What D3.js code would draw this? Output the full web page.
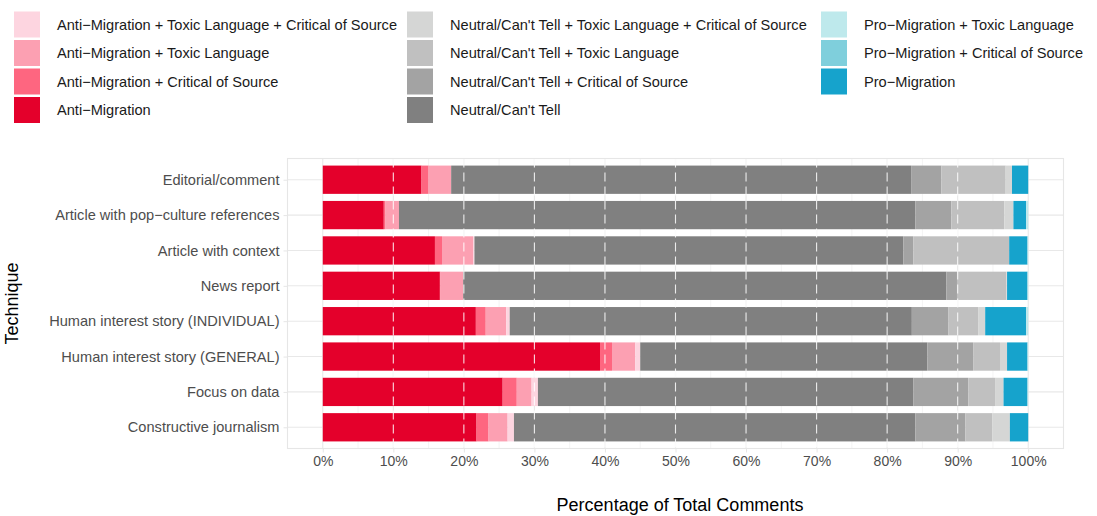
<!DOCTYPE html>
<html>
<head>
<meta charset="utf-8">
<script src="https://cdn.jsdelivr.net/npm/d3@7"></script>
<style>
  body { margin: 0; background: #fff; }
  text { font-family: "Liberation Sans", Arial, sans-serif; }
</style>
</head>
<body>
<div id="chart"></div>
<script>
// categories, top to bottom
const techniques = ["Editorial/comment", "Article with pop\u2212culture references", "Article with context",
  "News report", "Human interest story (INDIVIDUAL)", "Human interest story (GENERAL)",
  "Focus on data", "Constructive journalism"];

// percentage of comments per technique, one array per stance
const antiMigration        = [14.0, 8.65, 15.9, 16.6, 21.7, 39.3, 25.5, 21.8];
const antiCritical         = [1.0, 0.25, 1.0, 0.1, 1.4, 1.7, 2.0, 1.7];
const antiToxic            = [3.2, 1.9, 4.4, 3.2, 2.9, 3.3, 2.1, 2.7];
const antiToxicCritical    = [0.0, 0.0, 0.2, 0.0, 0.5, 0.7, 0.9, 0.9];
const neutral              = [65.2, 73.2, 60.8, 68.5, 57.0, 40.7, 53.2, 56.9];
const neutralCritical      = [4.3, 5.1, 1.4, 1.5, 5.2, 6.5, 7.8, 7.1];
const neutralToxic         = [9.1, 7.5, 13.6, 7.0, 4.2, 3.8, 3.8, 3.8];
const neutralToxicCritical = [0.9, 1.3, 0.0, 0.1, 1.0, 1.0, 1.2, 2.5];
const proMigration         = [2.3, 1.8, 2.6, 2.9, 5.8, 2.9, 3.4, 2.6];
const proCritical          = [0, 0, 0, 0, 0, 0, 0, 0];
const proToxic             = [0, 0.3, 0.1, 0.1, 0.3, 0.1, 0.1, 0];

const xTicks = [0, 10, 20, 30, 40, 50, 60, 70, 80, 90, 100];

// stack order left -> right
const series = [
  {key: "Anti\u2212Migration", values: antiMigration, color: "#e4002b"},
  {key: "Anti\u2212Migration + Critical of Source", values: antiCritical, color: "#fe6680"},
  {key: "Anti\u2212Migration + Toxic Language", values: antiToxic, color: "#fca0b2"},
  {key: "Anti\u2212Migration + Toxic Language + Critical of Source", values: antiToxicCritical, color: "#fdd5e0"},
  {key: "Neutral/Can't Tell", values: neutral, color: "#808080"},
  {key: "Neutral/Can't Tell + Critical of Source", values: neutralCritical, color: "#a3a3a3"},
  {key: "Neutral/Can't Tell + Toxic Language", values: neutralToxic, color: "#c0c0c0"},
  {key: "Neutral/Can't Tell + Toxic Language + Critical of Source", values: neutralToxicCritical, color: "#d5d6d5"},
  {key: "Pro\u2212Migration", values: proMigration, color: "#16a3cc"},
  {key: "Pro\u2212Migration + Critical of Source", values: proCritical, color: "#7fcfdc"},
  {key: "Pro\u2212Migration + Toxic Language", values: proToxic, color: "#bee9ec"}
];

// legend columns as in the reference
const legendCols = [
  [3, 2, 1, 0],
  [7, 6, 5, 4],
  [10, 9, 8]
];

const width = 1097, height = 516;
const panel = {left: 287.5, right: 1063.5, top: 158.5, bottom: 448.5};

const svg = d3.select("#chart").append("svg")
  .attr("width", width)
  .attr("height", height);

const table = techniques.map((t, i) => {
  const row = {technique: t};
  series.forEach(s => row[s.key] = s.values[i]);
  return row;
});

const stacked = d3.stack()
  .keys(series.map(s => s.key))
  .offset(d3.stackOffsetExpand)(table);

const x = d3.scaleLinear().domain([-0.05, 1.05]).range([panel.left, panel.right]);
const y = d3.scalePoint().domain(techniques).range([panel.top, panel.bottom]).padding(0.6);
const barH = y.step() * 0.8;

// grid
const grid = svg.append("g");
d3.range(-0.05, 1.06, 0.1).forEach(v => {
  grid.append("line")
    .attr("x1", x(v)).attr("x2", x(v))
    .attr("y1", panel.top).attr("y2", panel.bottom)
    .attr("stroke", "#ececec").attr("stroke-width", 0.6);
});
xTicks.forEach(v => {
  grid.append("line")
    .attr("x1", x(v / 100)).attr("x2", x(v / 100))
    .attr("y1", panel.top).attr("y2", panel.bottom)
    .attr("stroke", "#e8e8e8").attr("stroke-width", 1.1);
});
techniques.forEach(t => {
  grid.append("line")
    .attr("x1", panel.left).attr("x2", panel.right)
    .attr("y1", y(t)).attr("y2", y(t))
    .attr("stroke", "#e8e8e8").attr("stroke-width", 1.1);
});

// bars
svg.append("g").selectAll("g")
  .data(stacked)
  .join("g")
  .attr("fill", (d, i) => series[i].color)
  .selectAll("rect")
  .data(d => d)
  .join("rect")
  .attr("x", d => x(d[0]))
  .attr("width", d => Math.max(0, x(d[1]) - x(d[0])))
  .attr("y", d => y(d.data.technique) - barH / 2)
  .attr("height", barH);

// white dashed reference lines
xTicks.filter(v => v > 0 && v < 100).forEach(v => {
  svg.append("line")
    .attr("x1", x(v / 100)).attr("x2", x(v / 100))
    .attr("y1", panel.top).attr("y2", panel.bottom)
    .attr("stroke", "#fff").attr("stroke-opacity", 0.85)
    .attr("stroke-width", 1.1)
    .attr("stroke-dasharray", "9,5");
});

// panel border
svg.append("rect")
  .attr("x", panel.left).attr("y", panel.top)
  .attr("width", panel.right - panel.left)
  .attr("height", panel.bottom - panel.top)
  .attr("fill", "none").attr("stroke", "#e6e6e6").attr("stroke-width", 1.1);

// axes
const xAxis = svg.append("g")
  .attr("transform", `translate(0,${panel.bottom})`)
  .call(d3.axisBottom(x).tickValues(xTicks.map(v => v / 100)).tickFormat(d3.format(".0%")).tickSize(4).tickPadding(4));
xAxis.select(".domain").remove();
xAxis.selectAll("line").attr("stroke", "#e6e6e6");
xAxis.selectAll("text").attr("fill", "#4d4d4d").style("font-size", "14px");

const yAxis = svg.append("g")
  .attr("transform", `translate(${panel.left},0)`)
  .call(d3.axisLeft(y).tickSize(4).tickPadding(4));
yAxis.select(".domain").remove();
yAxis.selectAll("line").attr("stroke", "#e6e6e6");
yAxis.selectAll("text").attr("fill", "#4d4d4d").style("font-size", "14.6px");

svg.append("text")
  .attr("x", 680)
  .attr("y", 511)
  .attr("text-anchor", "middle")
  .style("font-size", "18px")
  .text("Percentage of Total Comments");

svg.append("text")
  .attr("transform", `translate(18,${(panel.top + panel.bottom) / 2}) rotate(-90)`)
  .attr("text-anchor", "middle")
  .style("font-size", "18px")
  .text("Technique");

// legend
const colX = [14, 407, 821];
const legend = svg.append("g");
legendCols.forEach((col, c) => {
  col.forEach((si, r) => {
    const s = series[si];
    const yy = 11.5 + r * 28.5;
    legend.append("rect")
      .attr("x", colX[c]).attr("y", yy)
      .attr("width", 26).attr("height", 26)
      .attr("fill", s.color);
    legend.append("text")
      .attr("x", colX[c] + 43).attr("y", yy + 13)
      .attr("dy", "0.35em")
      .style("font-size", "14.6px")
      .attr("fill", "#1a1a1a")
      .text(s.key);
  });
});
</script>
</body>
</html>
